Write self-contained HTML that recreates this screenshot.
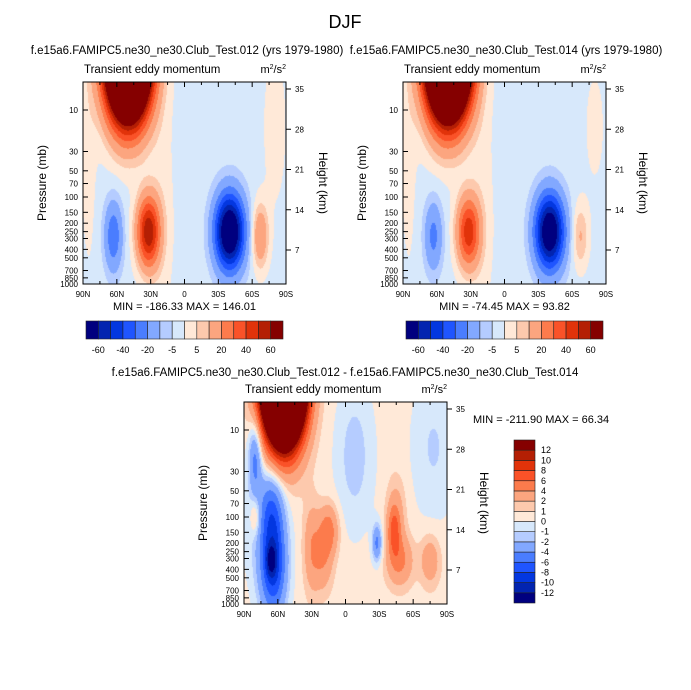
<!DOCTYPE html>
<html><head><meta charset="utf-8">
<style>
body{margin:0;background:#fff;}
#wrap{position:relative;width:691px;height:690px;overflow:hidden;font-family:"Liberation Sans",sans-serif;}
canvas{position:absolute;}
svg{position:absolute;left:0;top:0;}
</style></head>
<body>
<div id="wrap">
<canvas id="c1"></canvas>
<canvas id="c2"></canvas>
<canvas id="c3"></canvas>
<svg id="ov" width="691" height="690"></svg>
</div>
<script>
// ---- data ----
const pressureTicks = [10,30,50,70,100,150,200,250,300,400,500,700,850,1000];
const heightTicks = [7,14,21,28,35];
const latTicks = [90,60,30,0,-30,-60,-90];
const latLabels = ["90N","60N","30N","0","30S","60S","90S"];
const levelsFull = [-60,-50,-40,-30,-20,-10,-5,0,5,10,20,30,40,50,60];
const levelLabelsFull = ["-60","-40","-20","-5","5","20","40","60"];
const levelsDiff = [-12,-10,-8,-6,-4,-2,-1,0,1,2,4,6,8,10,12];
const colors = ["#00007f","#0224b0","#0337e0","#1f55ff","#4a7dff","#82a8ff","#b5ccff","#d7e8fb","#ffe9d8","#fdc9ad","#fca57f","#fc7b4c","#fa5228","#e1330a","#b41f04","#850000"];
// blobs: [lat, log10(p), amplitude, lat width, logp width]
const blobs012 = [[50,0.3,300,13,0.5],[32,2.4,60,7,0.28],[63,2.45,-26,5.5,0.28],[-40,2.4,-82,9,0.3],[-67,2.45,22,5,0.25],[20,2.2,4,8,1.0],[85,1.5,4,5,1.0],[-80,1.2,4,8,0.7]];
const blobs014 = [[50,0.3,300,13,0.5],[32,2.4,48,7,0.28],[63,2.45,-21,5.5,0.28],[-40,2.4,-76,9,0.3],[-67,2.45,13,5,0.25],[20,2.2,4,8,1.0],[85,1.5,4,5,1.0],[-80,1.2,3,8,0.6]];
const blobsDiff = [[55,0.3,80,12,0.5],[80,1.3,-5,4,0.3],[64,2.55,-9,8,0.4],[66,2.5,-5,3,0.12],[65,1.9,-4,7,0.3],[72,2.0,-2,12,0.6],[80,2.0,3,3,0.15],[30,2.35,3,5,0.35],[15,2.15,4.5,6,0.2],[20,2.5,3,6,0.25],[-28,2.3,-5,3,0.15],[-43,2.15,5,4,0.2],[-48,2.5,4,8,0.2],[-75,2.5,3,6,0.2],[-45,1.95,2,6,0.3],[-8,1.3,-2,12,0.6],[-78,1.2,-1.6,14,0.6]];
const baselines = [-2,-2,0.5];

const panels = [
 {id:"c1",x0:83,y0:82,w:203,h:202,blobs:blobs012,base:baselines[0],levels:levelsFull,title:"f.e15a6.FAMIPC5.ne30_ne30.Club_Test.012 (yrs 1979-1980)",tx:187,minmax:"MIN = -186.33  MAX = 146.01",name:"test012"},
 {id:"c2",x0:403,y0:82,w:203,h:202,blobs:blobs014,base:baselines[1],levels:levelsFull,title:"f.e15a6.FAMIPC5.ne30_ne30.Club_Test.014 (yrs 1979-1980)",tx:506,minmax:"MIN = -74.45  MAX = 93.82",name:"test014"},
 {id:"c3",x0:244,y0:402,w:203,h:202,blobs:blobsDiff,base:baselines[2],levels:levelsDiff,title:"f.e15a6.FAMIPC5.ne30_ne30.Club_Test.012 - f.e15a6.FAMIPC5.ne30_ne30.Club_Test.014",tx:345,minmax:null,name:"difference"}
];
const lpBottom=3, pxPerDecade=87;
function xScale(p,lat){return p.x0+(90-lat)/180*p.w;}
function yScale(p,pres){return p.y0+p.h-(lpBottom-Math.log10(pres))*pxPerDecade;}
function yHeight(p,z){return p.y0+p.h-(5.75*z-6.25);}
function field(p,lat,lp){
 let v=p.base;
 for(const b of p.blobs){const dx=(lat-b[0])/b[3],dy=(lp-b[1])/b[4];v+=b[2]*Math.exp(-(dx*dx+dy*dy)/2);}
 return v;
}
function hex(c){return [parseInt(c.substr(1,2),16),parseInt(c.substr(3,2),16),parseInt(c.substr(5,2),16)];}
const rgb=colors.map(hex);

const NS="http://www.w3.org/2000/svg";
const ov=document.getElementById('ov');
function el(tag,attrs,txt){const e=document.createElementNS(NS,tag);for(const k in attrs)e.setAttribute(k,attrs[k]);if(txt!==undefined)e.textContent=txt;ov.appendChild(e);return e;}

let t=el('text',{x:345,y:28,'text-anchor':'middle','font-size':18});t.textContent="DJF";



panels.forEach(p=>{
 const cv=document.getElementById(p.id);
 cv.width=p.w;cv.height=p.h;cv.style.left=p.x0+'px';cv.style.top=p.y0+'px';
 const ctx=cv.getContext('2d');const img=ctx.createImageData(p.w,p.h);
 for(let j=0;j<p.h;j++){
  const lp=lpBottom-(p.h-j-0.5)/pxPerDecade;
  for(let i=0;i<p.w;i++){
   const lat=90-(i+0.5)/p.w*180;
   const v=field(p,lat,lp);
   let k=0;while(k<p.levels.length&&v>=p.levels[k])k++;
   const c=rgb[k];const o=(j*p.w+i)*4;
   img.data[o]=c[0];img.data[o+1]=c[1];img.data[o+2]=c[2];img.data[o+3]=255;
  }
 }
 ctx.putImageData(img,0,0);
 let r=el('rect',{x:p.x0,y:p.y0,width:p.w,height:p.h,fill:'none',stroke:'#000','stroke-width':1});
 
 
 let tt=el('text',{x:p.tx,y:p.id==='c3'?376:54,'text-anchor':'middle','font-size':11.5},p.title);
 
 
 let lt=el('text',{x:p.x0+1,y:p.y0-9,'font-size':11.5},"Transient eddy momentum");
 
 
 let ut=el('text',{x:p.x0+p.w,y:p.y0-9,'text-anchor':'end','font-size':11});
 ut.innerHTML='m<tspan dy="-4" font-size="7">2</tspan><tspan dy="4">/s</tspan><tspan dy="-4" font-size="7">2</tspan>';
 
 
 for(let lat=90;lat>=-90;lat-=15){
  const x=xScale(p,lat);const maj=(lat%30===0);const L=maj?5:3;
  el('line',{x1:x,x2:x,y1:p.y0+p.h,y2:p.y0+p.h-L,stroke:'#000'});
  el('line',{x1:x,x2:x,y1:p.y0,y2:p.y0+L,stroke:'#000'});
 }
 latTicks.forEach((lat,i)=>{
  const lb=el('text',{x:xScale(p,lat),y:p.y0+p.h+13,'text-anchor':'middle','font-size':8},latLabels[i]);
  
  
 });
 pressureTicks.forEach(pr=>{
  const y=yScale(p,pr);
  el('line',{x1:p.x0,x2:p.x0+5,y1:y,y2:y,stroke:'#000'});
  const lb=el('text',{x:p.x0-5,y:y+3,'text-anchor':'end','font-size':8},String(pr));
  
  
 });
 heightTicks.forEach(z=>{
  const y=yHeight(p,z);
  el('line',{x1:p.x0+p.w,x2:p.x0+p.w+5,y1:y,y2:y,stroke:'#000'});
  const lb=el('text',{x:p.x0+p.w+9,y:y+3,'font-size':8},String(z));
  
  
 });
 const cy=p.y0+p.h/2;
 let ya=el('text',{x:0,y:0,'text-anchor':'middle','font-size':12,transform:`translate(${p.x0-37},${cy}) rotate(-90)`},"Pressure (mb)");
 
 
 let ya2=el('text',{x:0,y:0,'text-anchor':'middle','font-size':12,transform:`translate(${p.x0+p.w+33},${cy}) rotate(90)`},"Height (km)");
 
 
 if(p.minmax){
  let mm=el('text',{x:p.x0+p.w/2,y:p.y0+p.h+26,'text-anchor':'middle','font-size':11},p.minmax);
  
  
  const cx0=p.x0+3,cw=197,cyy=321,ch=18,bw=cw/16;
  colors.forEach((c,i)=>{
   const b=el('rect',{x:cx0+i*bw,y:cyy,width:bw,height:ch,fill:c,stroke:'#222','stroke-width':0.6});
   
   
  });
  levelLabelsFull.forEach((lab,i)=>{
   const lb=el('text',{x:cx0+(2*i+1)*bw,y:cyy+ch+14,'text-anchor':'middle','font-size':9},lab);
   
   
  });
 }
});
let mm3=el('text',{x:473,y:423,'font-size':11},"MIN = -211.90  MAX =  66.34");


{
 const vx=514,vy=440,vw=21,vh=163,bh=vh/16;
 colors.forEach((c,i)=>{
  const b=el('rect',{x:vx,y:vy+(15-i)*bh,width:vw,height:bh,fill:c,stroke:'#222','stroke-width':0.6});
  
  
 });
 levelsDiff.forEach((lv,i)=>{
  const lb=el('text',{x:vx+vw+6,y:vy+(15-i)*bh+3,'font-size':9},String(lv));
  
  
 });
}
</script>
</body></html>
